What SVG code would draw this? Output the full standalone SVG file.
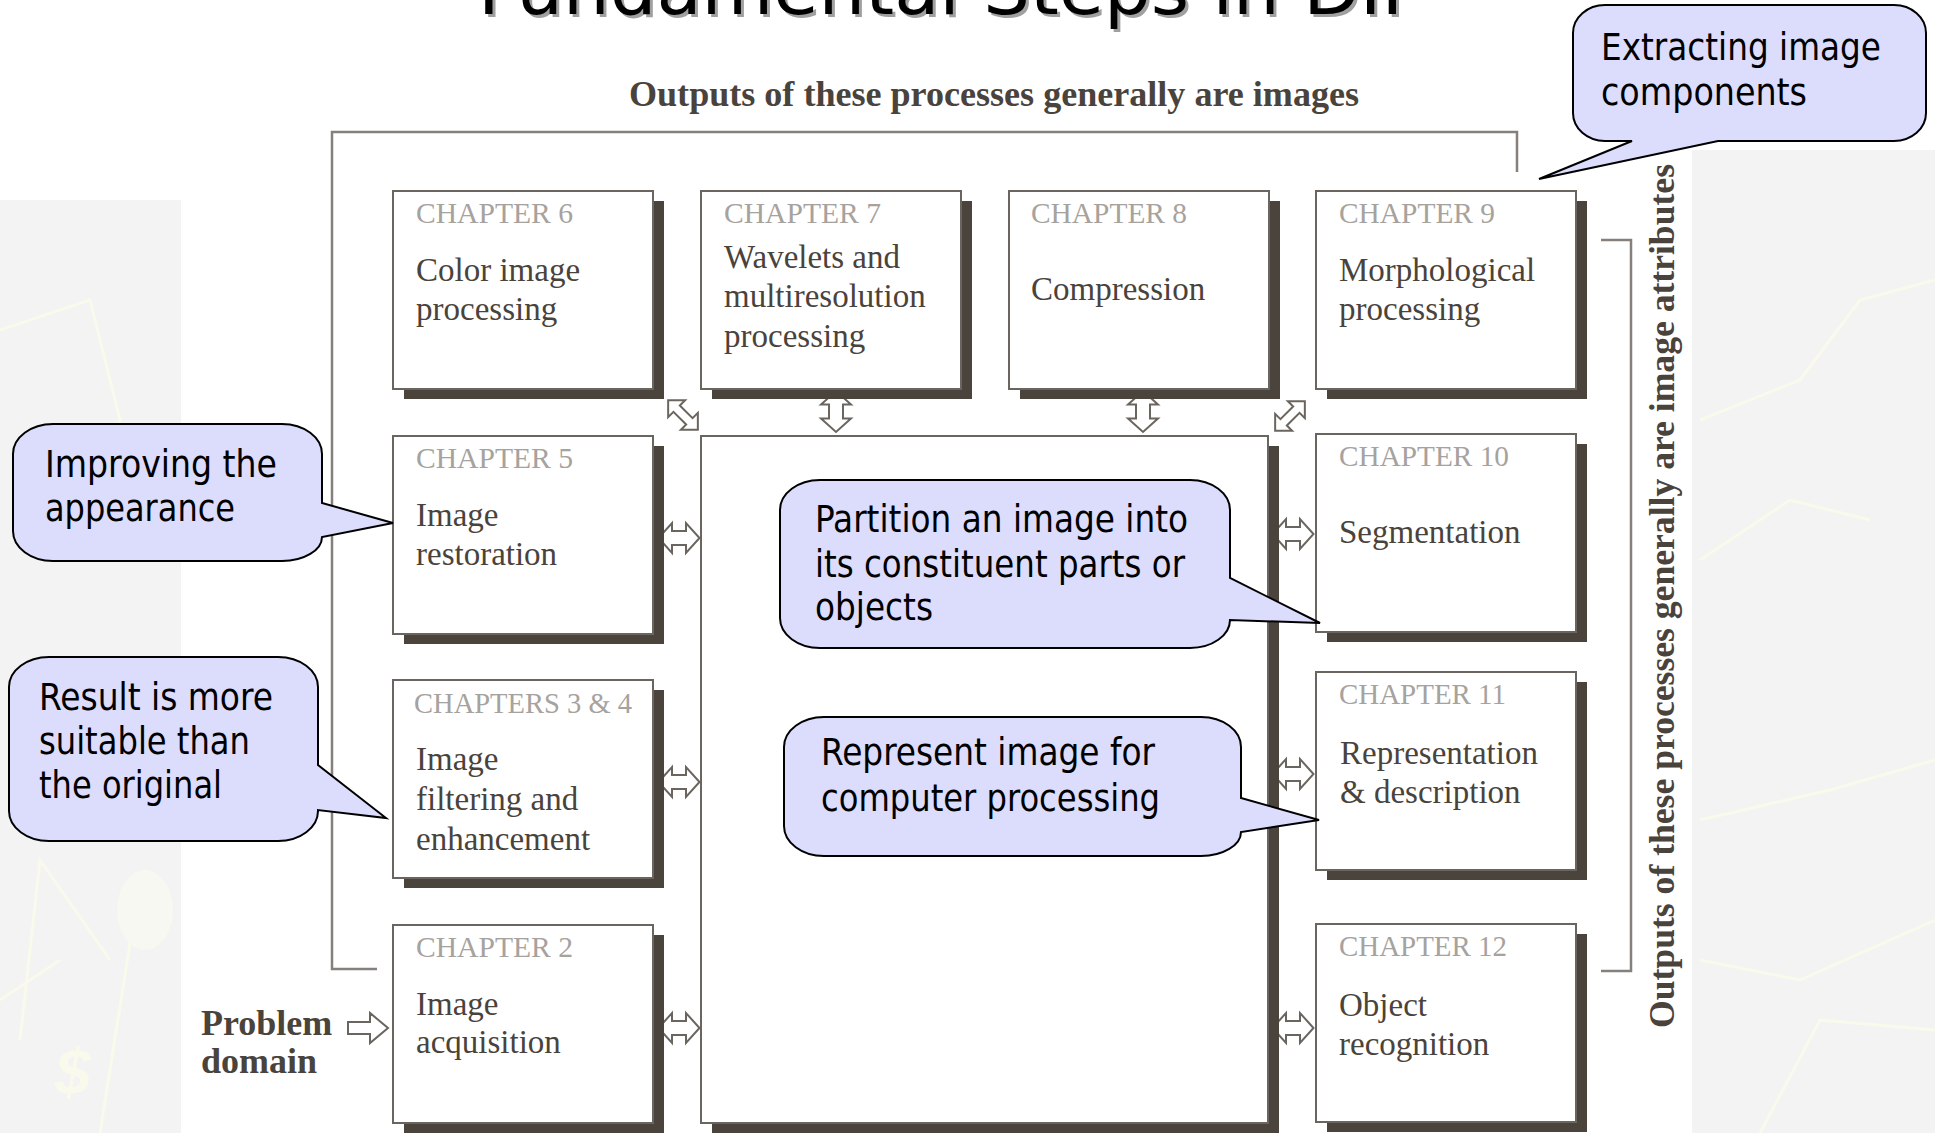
<svg xmlns="http://www.w3.org/2000/svg" width="1935" height="1133" viewBox="0 0 1935 1133">
<defs>
<style>
.chap{font-family:"Liberation Serif",serif;font-size:30px;fill:#a6a29e}
.body{font-family:"Liberation Serif",serif;font-size:33px;fill:#4a433c}
.lbl{font-family:"Liberation Serif",serif;font-size:36px;font-weight:bold;fill:#4a433c}
.bub{font-family:"DejaVu Sans Condensed","DejaVu Sans",sans-serif;font-size:37px;fill:#000}
.box{fill:#fff;stroke:#6b655f;stroke-width:2}
.shd{fill:#4b443d}
.frame{fill:none;stroke:#85807b;stroke-width:2.5}
.arr{fill:#fff;stroke:#6b655f;stroke-width:2;stroke-linejoin:miter}
.callout{fill:#dcdcfc;stroke:#000;stroke-width:2;stroke-linejoin:miter}
.deco{fill:none;stroke:#f9f9ec;stroke-width:3}
</style>
<path id="dbl" d="M-20.5,0 L-7,-15 L-7,-7 L7,-7 L7,-15 L20.5,0 L7,15 L7,7 L-7,7 L-7,15 Z"/>
<path id="diag" d="M-21,0 L-9,-12 L-9,-4.5 L9,-4.5 L9,-12 L21,0 L9,12 L9,4.5 L-9,4.5 L-9,12 Z"/>
</defs>
<rect x="0" y="0" width="1935" height="1133" fill="#fff"/>
<g id="background">
<rect x="0" y="200" width="181" height="933" fill="#f3f3f3"/>
<rect x="1692" y="150" width="243" height="983" fill="#f3f3f3"/>
<path class="deco" d="M0,330 L90,300 L120,420 L60,520 M20,1040 L40,860 L110,960 M0,1000 L60,960 M140,880 L100,1133"/>
<path class="deco" d="M1700,420 L1800,380 L1860,300 L1935,280 M1700,560 L1790,500 L1870,520 M1700,820 L1830,790 L1935,760 M1700,960 L1800,980 L1935,920 M1760,1133 L1820,1020 L1935,1030"/>
<ellipse cx="145" cy="910" rx="28" ry="40" fill="#f8f8f2"/>
<text x="55" y="1095" font-family="Liberation Sans,sans-serif" font-size="64" font-weight="bold" font-style="italic" fill="#f9f9ec">$</text>
</g>
<g id="title">
<text x="481" y="17" font-family="DejaVu Sans,sans-serif" font-size="72" fill="#a0a0a0" textLength="948" lengthAdjust="spacingAndGlyphs">Fundamental Steps in DIP</text>
<text x="478" y="14" font-family="DejaVu Sans,sans-serif" font-size="72" fill="#000" textLength="948" lengthAdjust="spacingAndGlyphs">Fundamental Steps in DIP</text>
</g>
<g id="labels">
<text class="lbl" x="629" y="106" textLength="730" lengthAdjust="spacingAndGlyphs">Outputs of these processes generally are images</text>
<text class="lbl" transform="translate(1674,1028) rotate(-90)" x="0" y="0" textLength="864" lengthAdjust="spacingAndGlyphs">Outputs of these processes generally are image attributes</text>
<text class="lbl" x="201" y="1035">Problem</text>
<text class="lbl" x="201" y="1073">domain</text>
</g>
<g id="connectors">
<path class="frame" d="M377,969 H332 V132 H1517 V172"/>
<path class="frame" d="M1601,240 H1631 V971 H1601"/>
<use href="#diag" class="arr" transform="translate(683,415) rotate(45)"/>
<use href="#diag" class="arr" transform="translate(1290,416) rotate(-45)"/>
<use href="#dbl" class="arr" transform="translate(836,411.5) rotate(90)"/>
<use href="#dbl" class="arr" transform="translate(1143,411.5) rotate(90)"/>
<use href="#dbl" class="arr" transform="translate(679,538)"/>
<use href="#dbl" class="arr" transform="translate(679,782)"/>
<use href="#dbl" class="arr" transform="translate(679,1028)"/>
<use href="#dbl" class="arr" transform="translate(1293,534)"/>
<use href="#dbl" class="arr" transform="translate(1293,774)"/>
<use href="#dbl" class="arr" transform="translate(1293,1028)"/>
<path class="arr" d="M348,1022 H370 V1013 L388,1028 L370,1043 V1034 H348 Z"/>
</g>
<g id="ch6">
<rect class="shd" x="404" y="201" width="260" height="198"/>
<rect class="box" x="393" y="191" width="260" height="198"/>
<text class="chap" x="416" y="223" textLength="157" lengthAdjust="spacingAndGlyphs">CHAPTER 6</text>
<text class="body" x="416" y="281">Color image</text>
<text class="body" x="416" y="320">processing</text>
</g>
<g id="ch7">
<rect class="shd" x="712" y="201" width="260" height="198"/>
<rect class="box" x="701" y="191" width="260" height="198"/>
<text class="chap" x="724" y="223" textLength="157" lengthAdjust="spacingAndGlyphs">CHAPTER 7</text>
<text class="body" x="724" y="268">Wavelets and</text>
<text class="body" x="724" y="307">multiresolution</text>
<text class="body" x="724" y="347">processing</text>
</g>
<g id="ch8">
<rect class="shd" x="1020" y="201" width="260" height="198"/>
<rect class="box" x="1009" y="191" width="260" height="198"/>
<text class="chap" x="1031" y="223" textLength="156" lengthAdjust="spacingAndGlyphs">CHAPTER 8</text>
<text class="body" x="1031" y="300">Compression</text>
</g>
<g id="ch9">
<rect class="shd" x="1327" y="201" width="260" height="198"/>
<rect class="box" x="1316" y="191" width="260" height="198"/>
<text class="chap" x="1339" y="223" textLength="156" lengthAdjust="spacingAndGlyphs">CHAPTER 9</text>
<text class="body" x="1339" y="281">Morphological</text>
<text class="body" x="1339" y="320">processing</text>
</g>
<g id="ch5">
<rect class="shd" x="404" y="446" width="260" height="198"/>
<rect class="box" x="393" y="436" width="260" height="198"/>
<text class="chap" x="416" y="468" textLength="157" lengthAdjust="spacingAndGlyphs">CHAPTER 5</text>
<text class="body" x="416" y="526">Image</text>
<text class="body" x="416" y="565">restoration</text>
</g>
<g id="ch3-4">
<rect class="shd" x="404" y="690" width="260" height="198"/>
<rect class="box" x="393" y="680" width="260" height="198"/>
<text class="chap" x="414" y="713" textLength="218" lengthAdjust="spacingAndGlyphs">CHAPTERS 3 &amp; 4</text>
<text class="body" x="416" y="770">Image</text>
<text class="body" x="416" y="810">filtering and</text>
<text class="body" x="416" y="850">enhancement</text>
</g>
<g id="ch2">
<rect class="shd" x="404" y="935" width="260" height="198"/>
<rect class="box" x="393" y="925" width="260" height="198"/>
<text class="chap" x="416" y="957" textLength="157" lengthAdjust="spacingAndGlyphs">CHAPTER 2</text>
<text class="body" x="416" y="1015">Image</text>
<text class="body" x="416" y="1053">acquisition</text>
</g>
<g id="knowledge-base">
<rect class="shd" x="712" y="446" width="567" height="687"/>
<rect class="box" x="701" y="436" width="567" height="687"/>
</g>
<g id="ch10">
<rect class="shd" x="1327" y="444" width="260" height="198"/>
<rect class="box" x="1316" y="434" width="260" height="198"/>
<text class="chap" x="1339" y="466" textLength="170" lengthAdjust="spacingAndGlyphs">CHAPTER 10</text>
<text class="body" x="1339" y="543">Segmentation</text>
</g>
<g id="ch11">
<rect class="shd" x="1327" y="682" width="260" height="198"/>
<rect class="box" x="1316" y="672" width="260" height="198"/>
<text class="chap" x="1339" y="704" textLength="167" lengthAdjust="spacingAndGlyphs">CHAPTER 11</text>
<text class="body" x="1340" y="764">Representation</text>
<text class="body" x="1340" y="803">&amp; description</text>
</g>
<g id="ch12">
<rect class="shd" x="1327" y="934" width="260" height="198"/>
<rect class="box" x="1316" y="924" width="260" height="198"/>
<text class="chap" x="1339" y="956" textLength="168" lengthAdjust="spacingAndGlyphs">CHAPTER 12</text>
<text class="body" x="1339" y="1016">Object</text>
<text class="body" x="1339" y="1055">recognition</text>
</g>
<g id="callout-extracting">
<path class="callout" d="M1605,5 H1894 A32,28 0 0 1 1926,33 V113 A32,28 0 0 1 1894,141 H1718 L1539,179 L1632,141 H1605 A32,28 0 0 1 1573,113 V33 A32,28 0 0 1 1605,5 Z"/>
<text class="bub" x="1601" y="60" textLength="280" lengthAdjust="spacingAndGlyphs">Extracting image</text>
<text class="bub" x="1601" y="105" textLength="206" lengthAdjust="spacingAndGlyphs">components</text>
</g>
<g id="callout-improving">
<path class="callout" d="M53,424 H282 A40,30 0 0 1 322,454 V503 L393,523 L322,537 A40,24 0 0 1 282,561 H53 A40,30 0 0 1 13,531 V454 A40,30 0 0 1 53,424 Z"/>
<text class="bub" x="45" y="477" textLength="232" lengthAdjust="spacingAndGlyphs">Improving the</text>
<text class="bub" x="45" y="521" textLength="190" lengthAdjust="spacingAndGlyphs">appearance</text>
</g>
<g id="callout-result">
<path class="callout" d="M49,657 H278 A40,30 0 0 1 318,687 V765 L386,818 L318,810 V811 A40,30 0 0 1 278,841 H49 A40,30 0 0 1 9,811 V687 A40,30 0 0 1 49,657 Z"/>
<text class="bub" x="39" y="710" textLength="234" lengthAdjust="spacingAndGlyphs">Result is more</text>
<text class="bub" x="39" y="754" textLength="211" lengthAdjust="spacingAndGlyphs">suitable than</text>
<text class="bub" x="39" y="798" textLength="183" lengthAdjust="spacingAndGlyphs">the original</text>
</g>
<g id="callout-partition">
<path class="callout" d="M820,480 H1190 A40,30 0 0 1 1230,510 V578 L1320,623 L1230,620 A40,28 0 0 1 1190,648 H820 A40,30 0 0 1 780,618 V510 A40,30 0 0 1 820,480 Z"/>
<text class="bub" x="815" y="532" textLength="373" lengthAdjust="spacingAndGlyphs">Partition an image into</text>
<text class="bub" x="815" y="577" textLength="370" lengthAdjust="spacingAndGlyphs">its constituent parts or</text>
<text class="bub" x="815" y="620" textLength="118" lengthAdjust="spacingAndGlyphs">objects</text>
</g>
<g id="callout-represent">
<path class="callout" d="M824,717 H1201 A40,30 0 0 1 1241,747 V798 L1319,820 L1241,832 A40,24 0 0 1 1201,856 H824 A40,30 0 0 1 784,826 V747 A40,30 0 0 1 824,717 Z"/>
<text class="bub" x="821" y="765" textLength="334" lengthAdjust="spacingAndGlyphs">Represent image for</text>
<text class="bub" x="821" y="811" textLength="339" lengthAdjust="spacingAndGlyphs">computer processing</text>
</g>
</svg>
